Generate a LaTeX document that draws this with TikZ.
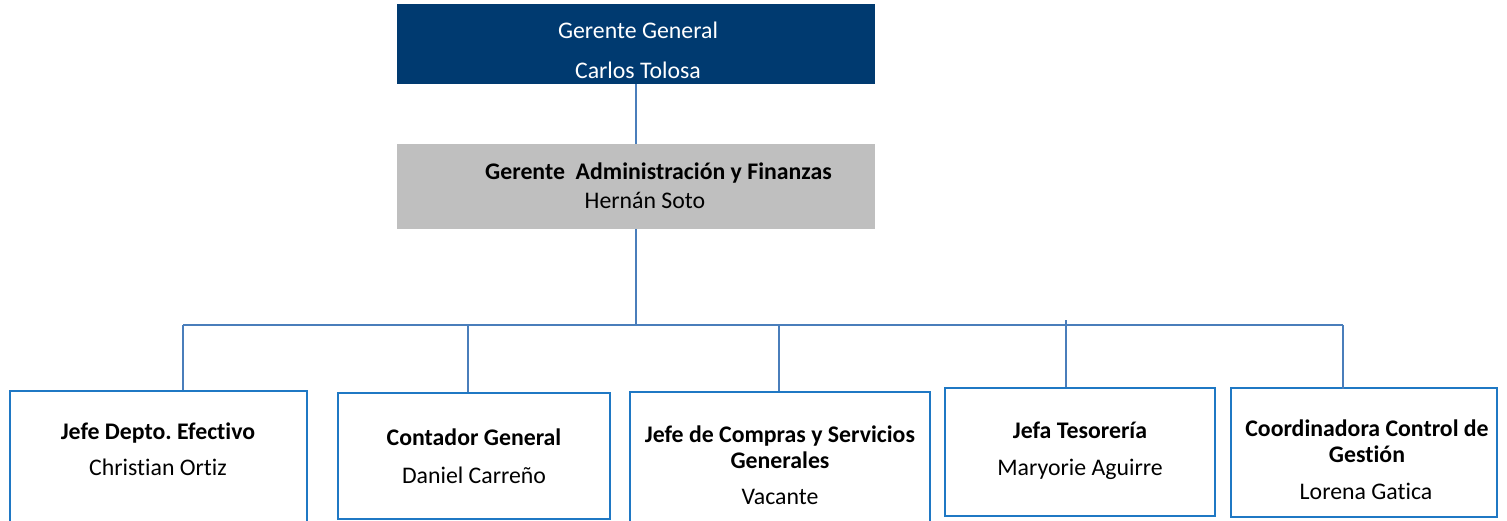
\documentclass[tikz,border=0pt]{standalone}
\usepackage{fontspec}
\setmainfont[Ligatures=NoCommon]{Carlito}
\frenchspacing
\definecolor{navy}{RGB}{0,58,112}
\definecolor{grayfill}{RGB}{191,191,191}
\definecolor{linkblue}{RGB}{74,126,187}
\definecolor{boxblue}{RGB}{31,120,196}
\begin{document}
\begin{tikzpicture}[x=1pt,y=-1pt,
  topbox/.style={rectangle, fill=navy, inner sep=0pt},
  midbox/.style={rectangle, fill=grayfill, inner sep=0pt},
  subbox/.style={rectangle, draw=boxblue, line width=1.6pt, inner sep=0pt},
  link/.style={draw=linkblue, line width=1.5pt},
  tx/.style={font=\fontsize{23.8}{28}\selectfont, inner sep=0pt, anchor=base},
  txb/.style={tx, font=\fontsize{23.8}{28}\selectfont\bfseries},
  txw/.style={tx, text=white}]
\useasboundingbox (0,0) rectangle (1507,520);
% boxes
\node[topbox, minimum width=478pt, minimum height=80pt] (gg) at (636,44) {};
\node[midbox, minimum width=478pt, minimum height=85pt] (gaf) at (636,186.5) {};
\node[subbox, minimum width=297pt, minimum height=132pt] (b1) at (158.5,457) {};
\node[subbox, minimum width=272pt, minimum height=126pt] (b2) at (474,456) {};
\node[subbox, minimum width=300pt, minimum height=130pt] (b3) at (780,457) {};
\node[subbox, minimum width=270pt, minimum height=128pt] (b4) at (1080,452) {};
\node[subbox, minimum width=266pt, minimum height=129pt] (b5) at (1364,452.5) {};
% texts
\node[txw] (t0a) at (638,38) {Gerente General};
\node[txw] (t0b) at (638,78) {Carlos Tolosa};
\node[txb] (t1a) at (658.5,179) {Gerente\ \ Administración y Finanzas};
\node[tx] (t1b) at (645,208) {Hernán Soto};
\node[txb] (b1a) at (158,439) {Jefe Depto. Efectivo};
\node[tx] (b1b) at (158,475) {Christian Ortiz};
\node[txb] (b2a) at (474,445) {Contador General};
\node[tx] (b2b) at (474,483) {Daniel Carreño};
\node[txb] (b3a) at (780,442) {Jefe de Compras y Servicios};
\node[txb] (b3b) at (780,468) {Generales};
\node[tx] (b3c) at (780,504) {Vacante};
\node[txb] (b4a) at (1080,438) {Jefa Tesorería};
\node[tx] (b4b) at (1080,475) {Maryorie Aguirre};
\node[txb] (b5a) at (1367,436) {Coordinadora Control de};
\node[txb] (b5b) at (1367,462) {Gestión};
\node[tx] (b5c) at (1366,499) {Lorena Gatica};
% connectors
\coordinate (hub) at (636,325);
\coordinate (j1) at (183,325);
\coordinate (j2) at (468,325);
\coordinate (j3) at (779,325);
\coordinate (j4) at (1066,320);
\coordinate (j5) at (1343,325);
\draw[link] (gg.south) -- (gaf.north);
\draw[link] (gaf.south) -- (hub);
\draw[link] (j1) -- (j5);
\draw[link] (j1) -- (j1 |- b1.north);
\draw[link] (j2) -- (j2 |- b2.north);
\draw[link] (j3) -- (j3 |- b3.north);
\draw[link] (j4) -- (j4 |- b4.north);
\draw[link] (j5) -- ([yshift=-2pt]j5 |- b5.north);
\end{tikzpicture}
\end{document}
